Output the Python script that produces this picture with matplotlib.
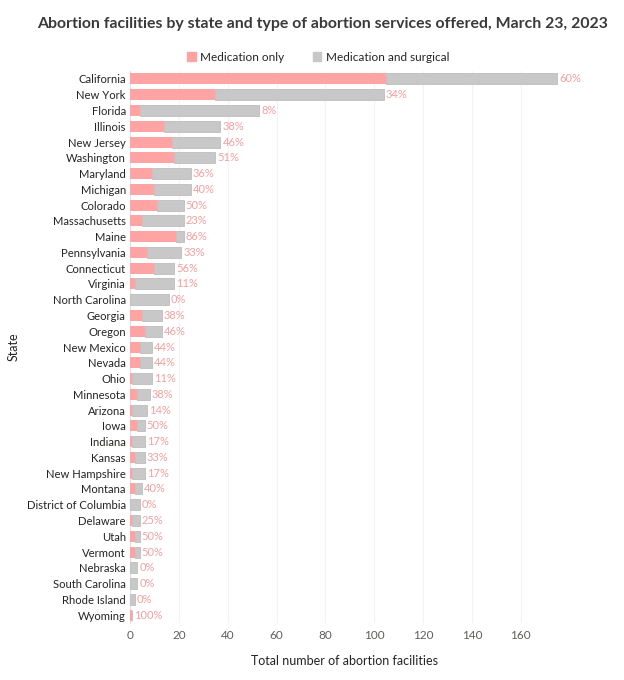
import matplotlib.pyplot as plt
from matplotlib.patches import Patch

plt.rcParams['font.family'] = ['Lato', 'DejaVu Sans']

states = ["California", "New York", "Florida", "Illinois", "New Jersey", "Washington",
          "Maryland", "Michigan", "Colorado", "Massachusetts", "Maine", "Pennsylvania",
          "Connecticut", "Virginia", "North Carolina", "Georgia", "Oregon", "New Mexico",
          "Nevada", "Ohio", "Minnesota", "Arizona", "Iowa", "Indiana", "Kansas",
          "New Hampshire", "Montana", "District of Columbia", "Delaware", "Utah",
          "Vermont", "Nebraska", "South Carolina", "Rhode Island", "Wyoming"]
total = [175, 104, 53, 37, 37, 35, 25, 25, 22, 22, 22, 21, 18, 18, 16, 13, 13, 9,
         9, 9, 8, 7, 6, 6, 6, 6, 5, 4, 4, 4, 4, 3, 3, 2, 1]
medication = [105, 35, 4, 14, 17, 18, 9, 10, 11, 5, 19, 7, 10, 2, 0, 5, 6, 4,
              4, 1, 3, 1, 3, 1, 2, 1, 2, 0, 1, 2, 2, 0, 0, 0, 1]
pct_labels = ["60%", "34%", "8%", "38%", "46%", "51%", "36%", "40%", "50%", "23%",
              "86%", "33%", "56%", "11%", "0%", "38%", "46%", "44%", "44%", "11%",
              "38%", "14%", "50%", "17%", "33%", "17%", "40%", "0%", "25%", "50%",
              "50%", "0%", "0%", "0%", "100%"]

surgical = [t - m for t, m in zip(total, medication)]

pink = "#FFA3A3"
gray = "#C8C8C8"

fig = plt.figure(figsize=(6.24, 6.8), dpi=100)
ax = fig.add_axes([0.2083, 0.0838, 0.689, 0.8117])

y = list(range(len(states)))
ax.barh(y, medication, height=0.7, color=pink, zorder=3)
ax.barh(y, surgical, left=medication, height=0.7, color=gray,
        edgecolor="#BDBDBD", linewidth=0.6, zorder=3)

for yi, t, lab in zip(y, total, pct_labels):
    ax.text(t + 0.8, yi, lab, va="center", ha="left", fontsize=8,
            color="#F4A0A0")

ax.set_yticks(y)
ax.set_yticklabels(states, fontsize=8.1, color="#252423")
ax.set_ylim(len(states) - 0.5, -0.5)
ax.set_xlim(0, 176)
ax.set_xticks([0, 20, 40, 60, 80, 100, 120, 140, 160])
ax.tick_params(axis="x", labelsize=8.5, colors="#605E5C", length=0, pad=5)
ax.tick_params(axis="y", length=0, pad=3)

ax.grid(axis="x", color="#F3F3F3", linewidth=0.8, zorder=0)
for s in ["top", "right", "bottom"]:
    ax.spines[s].set_visible(False)
ax.spines["left"].set_color("#E0E0E0")

ax.set_xlabel("Total number of abortion facilities", fontsize=9,
              color="#252423", labelpad=10)
ax.set_ylabel("State", fontsize=9, color="#252423", labelpad=5)

fig.text(0.517, 0.965, "Abortion facilities by state and type of abortion services offered, March 23, 2023",
         ha="center", va="center", fontsize=11.4, fontweight="bold", color="#3A3A3A")

handles = [Patch(color=pink, label="Medication only"),
           Patch(color=gray, label="Medication and surgical")]
fig.legend(handles=handles, loc="center", bbox_to_anchor=(0.51, 0.916), ncol=2,
           frameon=False, fontsize=8.5, handlelength=0.7, handleheight=0.7,
           handletextpad=0.4, columnspacing=2.4, labelcolor="#252423")

fig.savefig("out.png", dpi=100)
